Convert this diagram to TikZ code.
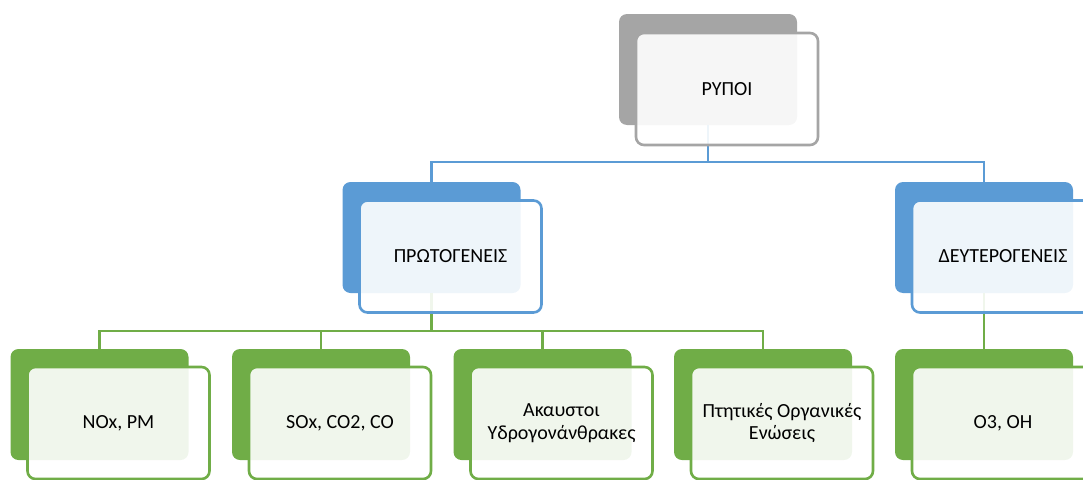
\documentclass[tikz,border=0pt]{standalone}
\usepackage{fontspec}
\setmainfont{Carlito}
\definecolor{cgray}{HTML}{A5A5A5}
\definecolor{cblue}{HTML}{5B9BD5}
\definecolor{cgreen}{HTML}{70AD47}
\begin{document}
\begin{tikzpicture}[x=1pt,y=-1pt,
  back/.style={rounded corners=8pt, minimum width=178pt, minimum height=111pt, inner sep=0pt, draw=none},
  front/.style={rounded corners=8pt, minimum width=182pt, minimum height=112pt, inner sep=0pt,
    fill=white, fill opacity=0.9, text opacity=1, line width=2.6pt, align=center,
    font=\fontsize{20}{22.5}\selectfont, text=black},
  conn/.style={line width=2.6pt}]
\useasboundingbox (0,0) rectangle (1083,479);
\clip (0,0) rectangle (1083,479);
% back shapes
\node[back, fill=cgray] (rb) at (708,69.5) {};
\node[back, fill=cblue] (pb) at (431.5,237.5) {};
\node[back, fill=cblue] (db) at (984,237.5) {};
\node[back, fill=cgreen] (n1b) at (99.5,404.5) {};
\node[back, fill=cgreen] (n2b) at (321,404.5) {};
\node[back, fill=cgreen] (n3b) at (542.5,404.5) {};
\node[back, fill=cgreen] (n4b) at (763,404.5) {};
\node[back, fill=cgreen] (n5b) at (984,404.5) {};
% bus levels
\coordinate (busT) at (0,162);
\coordinate (busP) at (0,331);
% connectors
\draw[conn,cblue] (rb.south) -- (rb.south |- busT) -| (pb.north);
\draw[conn,cblue] (rb.south) -- (rb.south |- busT) -| (db.north);
\draw[conn,cgreen] (pb.south) -- (pb.south |- busP) -| (n1b.north);
\draw[conn,cgreen] (pb.south) -- (pb.south |- busP) -| (n2b.north);
\draw[conn,cgreen] (pb.south) -- (pb.south |- busP) -| (n3b.north);
\draw[conn,cgreen] (pb.south) -- (pb.south |- busP) -| (n4b.north);
\draw[conn,cgreen] (db.south) -- (n5b.north);
% front shapes
\node[front, draw=cgray] (rf) at (727,89) {ΡΥΠΟΙ};
\node[front, draw=cblue] (pf) at (450.5,256.5) {ΠΡΩΤΟΓΕΝΕΙΣ};
\node[front, draw=cblue] (df) at (1003,256.5) {ΔΕΥΤΕΡΟΓΕΝΕΙΣ};
\node[front, draw=cgreen] (n1f) at (118.5,423) {NOx, PM};
\node[front, draw=cgreen] (n2f) at (340,423) {SOx, CO2, CO};
\node[front, draw=cgreen] (n3f) at (561.5,423) {Ακαυστοι\\Υδρογονάνθρακες};
\node[front, draw=cgreen] (n4f) at (782,423) {Πτητικές Οργανικές\\Ενώσεις};
\node[front, draw=cgreen] (n5f) at (1003,423) {O3, OH};
\end{tikzpicture}
\end{document}
